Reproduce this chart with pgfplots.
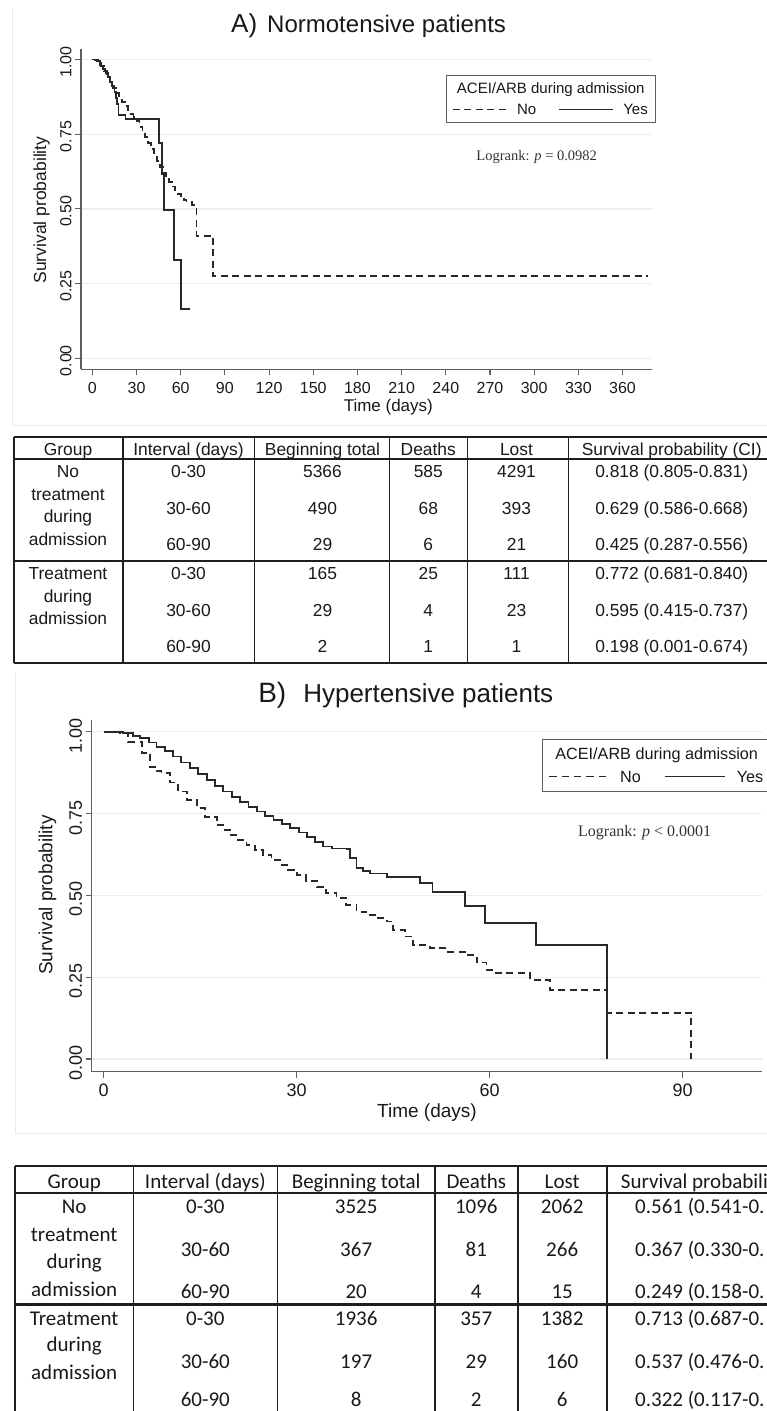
\documentclass[border=0pt]{standalone}
\usepackage{fontspec}
\setmainfont{Liberation Sans}
\newfontfamily\carlito{Carlito}
\newfontfamily\serifrm{Liberation Serif}
\usepackage{pgfplots}
\pgfplotsset{compat=1.18}
\definecolor{curve}{RGB}{40,40,40}
\definecolor{gridc}{RGB}{230,239,241}
\definecolor{axc}{RGB}{95,95,95}
\definecolor{txt}{RGB}{25,25,25}
\definecolor{tabc}{RGB}{30,30,30}
\pgfplotsset{
 km/.style={
  scale only axis,
  axis lines=left,
  axis line style={-, draw=axc, line width=1.3pt},
  tick align=outside,
  major tick length=6pt,
  tick style={draw=axc, line width=1.1pt},
  ymajorgrids,
  major grid style={draw=gridc, line width=1.3pt},
  ytick={0,0.25,0.5,0.75,1},
  yticklabels={0.00,0.25,0.50,0.75,1.00},
  yticklabel style={rotate=90, anchor=south},
  /pgf/number format/assume math mode=true,
  tick label style={text=txt},
  label style={text=txt},
  clip=false,
 },
 nost/.style={const plot, draw=curve, line width=1.8pt, dash pattern=on 7pt off 4.5pt, mark=none},
 yesst/.style={const plot, draw=curve, line width=1.8pt, mark=none},
}
\newcommand\tabA{\fontsize{17.4}{18}\selectfont}
\newcommand\tabB{\carlito\fontsize{21}{22}\selectfont}
\newcommand\ta[3]{\node[anchor=base, font=\tabA, text=txt, inner sep=0pt] at (#1,-#2) {#3};}
\newcommand\tb[3]{\node[anchor=base, font=\tabB, text=txt, inner sep=0pt] at (#1,-#2) {#3};}
\newcommand\tbw[3]{\node[anchor=base west, font=\tabB, text=txt, inner sep=0pt] at (#1,-#2) {#3};}
\begin{document}
\begin{tikzpicture}[x=1pt,y=1pt]
% faint graph-region edges
\draw[black!8, line width=0.8pt] (12,-8) -- (12,-425) -- (767,-425);
\draw[black!8, line width=0.8pt] (15,-672) -- (15,-1133) -- (767,-1133);

%================ Panel A =================
\begin{axis}[km, at={(81pt,-369.3pt)}, anchor=south west,
  width=570.7pt, height=320.3pt,
  xmin=-7.7, xmax=379.8, ymin=-0.037, ymax=1.035,
  xtick={0,30,...,360},
  tick label style={font=\fontsize{16}{16}\selectfont},
  xticklabel style={yshift=-3pt},
  yticklabel style={xshift=-2.5pt},
  xlabel={Time (days)},
  xlabel style={at={(axis description cs:0.5385,-0.1177)}, anchor=center, font=\fontsize{17}{17}\selectfont},
  ylabel={Survival probability},
  ylabel style={at={(axis description cs:-0.0692,0.4974)}, anchor=center, rotate=0, font=\fontsize{17.5}{17.5}\selectfont},
  title={{\fontsize{26}{26}\selectfont A)}\hspace{10pt}{\fontsize{24}{24}\selectfont Normotensive patients}},
  title style={at={(axis description cs:0.504,1.054)}, anchor=center, text=txt},
]
\addplot[nost] coordinates {
(0,1) (2,0.998) (4,0.99) (6,0.978) (8,0.962) (10,0.942) (12,0.925) (14,0.905)
(16,0.888) (18,0.872) (20,0.857) (22,0.843) (24,0.83) (26,0.818) (28,0.807)
(30,0.795) (32,0.775) (34,0.755) (36,0.74) (38,0.72) (40,0.70) (42,0.68)
(44,0.66) (46,0.64) (48,0.62) (50,0.605) (52,0.59) (54,0.575) (56,0.563)
(58,0.55) (60,0.54) (62,0.53) (64,0.522) (67.7,0.513) (70.7,0.41) (82,0.275)
(377.5,0.275)};
\addplot[yesst] coordinates {
(0,1) (3,0.995) (5,0.98) (7,0.968) (9,0.955) (10.5,0.94) (12,0.925) (13.5,0.91)
(15,0.89) (16,0.87) (16.8,0.85) (17.7,0.815) (22.5,0.80) (45,0.72) (47.3,0.615)
(48.4,0.495) (55.7,0.329) (60,0.164) (66.6,0.164)};
\end{axis}
% legend A
\draw[axc, line width=1pt, fill=white] (446.7,-75) rectangle (655.7,-122);
\node[font=\fontsize{15}{15}\selectfont, text=txt] at (550.7,-89.3) {ACEI/ARB during admission};
\draw[curve, line width=1.3pt, dash pattern=on 7pt off 4.5pt] (452.7,-109.3) -- (508.3,-109.3);
\node[font=\fontsize{15}{15}\selectfont, text=txt] at (526.7,-109.3) {No};
\draw[curve, line width=1.3pt] (559,-109.3) -- (613.3,-109.3);
\node[font=\fontsize{15}{15}\selectfont, text=txt] at (635.5,-109.3) {Yes};
\node[font=\serifrm\fontsize{14.5}{15}\selectfont, text=black!80] at (536.7,-156.7) {Logrank: \textit{p} = 0.0982};

%================ Table A =================
\begin{scope}[draw=tabc]
\draw[line width=1.6pt] (14,-436.7) -- (767,-436.7);
\draw[line width=2pt] (14,-459.3) -- (767,-459.3);
\draw[line width=2.6pt] (14,-561) -- (767,-561);
\draw[line width=1.8pt] (14,-663.3) -- (767,-663.3);
\foreach \xx in {14,122.7,254.3,389.5,467.3,568.3}
  \draw[line width=1.6pt] (\xx,-436.7) -- (\xx,-663.3);
\end{scope}
\ta{68}{455}{Group}
\ta{188.5}{455}{Interval (days)}
\ta{322.5}{455}{Beginning total}
\ta{428.3}{455}{Deaths}
\ta{516.5}{455}{Lost}
\ta{671.7}{455}{Survival probability (CI)}
\ta{68}{477.7}{No}
\ta{68}{500.3}{treatment}
\ta{68}{522.7}{during}
\ta{68}{545.3}{admission}
\ta{68}{579.3}{Treatment}
\ta{68}{602.7}{during}
\ta{68}{624.3}{admission}
\ta{188.5}{477.7}{0-30}\ta{322.5}{477.7}{5366}\ta{428.3}{477.7}{585}\ta{516.5}{477.7}{4291}\ta{671.7}{477.7}{0.818 (0.805-0.831)}
\ta{188.5}{514.3}{30-60}\ta{322.5}{514.3}{490}\ta{428.3}{514.3}{68}\ta{516.5}{514.3}{393}\ta{671.7}{514.3}{0.629 (0.586-0.668)}
\ta{188.5}{550}{60-90}\ta{322.5}{550}{29}\ta{428.3}{550}{6}\ta{516.5}{550}{21}\ta{671.7}{550}{0.425 (0.287-0.556)}
\ta{188.5}{579.3}{0-30}\ta{322.5}{579.3}{165}\ta{428.3}{579.3}{25}\ta{516.5}{579.3}{111}\ta{671.7}{579.3}{0.772 (0.681-0.840)}
\ta{188.5}{616}{30-60}\ta{322.5}{616}{29}\ta{428.3}{616}{4}\ta{516.5}{616}{23}\ta{671.7}{616}{0.595 (0.415-0.737)}
\ta{188.5}{652}{60-90}\ta{322.5}{652}{2}\ta{428.3}{652}{1}\ta{516.5}{652}{1}\ta{671.7}{652}{0.198 (0.001-0.674)}

%================ Panel B =================
\begin{axis}[km, at={(91.7pt,-1071.7pt)}, anchor=south west,
  width=670pt, height=351.7pt,
  xmin=-1.865, xmax=102.29, ymin=-0.0388, ymax=1.0357,
  xtick={0,30,60,90},
  tick label style={font=\fontsize{18}{18}\selectfont},
  xticklabel style={yshift=-3pt},
  yticklabel style={xshift=-4pt},
  xlabel={Time (days)},
  xlabel style={at={(axis description cs:0.5004,-0.1166)}, anchor=center, font=\fontsize{19}{19}\selectfont},
  ylabel={Survival probability},
  ylabel style={at={(axis description cs:-0.066,0.5024)}, anchor=center, rotate=0, font=\fontsize{19}{19}\selectfont},
  title={{\fontsize{28}{28}\selectfont B)}\hspace{17pt}{\fontsize{26}{26}\selectfont Hypertensive patients}},
  title style={at={(axis description cs:0.4688,1.052)}, anchor=center, text=txt},
]
\addplot[nost] coordinates {
(0,1) (2.5,0.995) (3.8,0.969) (5.9,0.934) (7.2,0.893) (8.2,0.88) (9.0,0.873)
(10.3,0.845) (11.6,0.817) (12.9,0.791) (14.5,0.766) (15.7,0.740) (17.6,0.715)
(18.6,0.70) (19.6,0.684) (20.9,0.669) (22.2,0.654) (23.5,0.638) (24.8,0.623)
(26.1,0.608) (27.4,0.593) (28.7,0.578) (30.0,0.562) (31.5,0.544) (33.1,0.526)
(34.6,0.508) (36.2,0.491) (37.7,0.47) (39.3,0.450) (40.8,0.44) (42.4,0.430)
(44.0,0.42) (45.0,0.394) (46.8,0.374) (48.1,0.348) (50.7,0.338) (53.3,0.328)
(56.4,0.318) (58.0,0.295) (59.5,0.272) (60.6,0.262) (66.3,0.241) (69.4,0.211)
(78.3,0.141) (91.3,0.0)};
\addplot[yesst] coordinates {
(0,1) (1.5,0.998) (3,0.995) (4.5,0.988) (5.6,0.98) (7,0.967) (8.2,0.954)
(9.5,0.94) (10.8,0.924) (12,0.906) (13.4,0.888) (14.7,0.87) (16,0.852)
(17.3,0.835) (18.6,0.817) (19.9,0.80) (21.2,0.786) (22.5,0.771) (23.8,0.756)
(25.1,0.743) (26.4,0.73) (27.7,0.717) (29,0.705) (30.3,0.692) (31.6,0.679)
(32.9,0.664) (34.1,0.649) (35.5,0.643) (37.8,0.641) (38.3,0.615) (39.3,0.583)
(40.3,0.575) (41.4,0.567) (44,0.555) (49.2,0.537) (51.1,0.511) (56.2,0.467)
(59.3,0.416) (67.2,0.348) (78.3,0.0)};
\end{axis}
% legend B
\draw[axc, line width=1pt, fill=white] (542.7,-739) rectangle (790,-791);
\node[font=\fontsize{16.2}{16.2}\selectfont, text=txt] at (656.7,-755) {ACEI/ARB during admission};
\draw[curve, line width=1.3pt, dash pattern=on 7.5pt off 4.8pt] (549.3,-776.7) -- (610,-776.7);
\node[font=\fontsize{16.2}{16.2}\selectfont, text=txt] at (630.5,-776.7) {No};
\draw[curve, line width=1.3pt] (665,-776.7) -- (725,-776.7);
\node[font=\fontsize{16.2}{16.2}\selectfont, text=txt, anchor=west, inner sep=0pt] at (736.7,-776.7) {Yes};
\node[font=\serifrm\fontsize{16}{16}\selectfont, text=black!80] at (644.7,-832.7) {Logrank: \textit{p} < 0.0001};

%================ Table B =================
\begin{scope}[draw=tabc]
\draw[line width=1.8pt] (15,-1166) -- (767,-1166);
\draw[line width=2pt] (15,-1192.7) -- (767,-1192.7);
\draw[line width=2.6pt] (15,-1304.3) -- (767,-1304.3);
\foreach \xx in {15,133.3,277.3,435,517.7,606.7}
  \draw[line width=1.6pt] (\xx,-1166) -- (\xx,-1415);
\end{scope}
\tb{74.2}{1188.5}{Group}
\tb{205.3}{1188.5}{Interval (days)}
\tb{356.2}{1188.5}{Beginning total}
\tb{476.3}{1188.5}{Deaths}
\tb{562.2}{1188.5}{Lost}
\tbw{620.7}{1188.5}{Survival probabili}
\tb{74.2}{1213.5}{No}
\tb{74.2}{1241.1}{treatment}
\tb{74.2}{1268.5}{during}
\tb{74.2}{1296.1}{admission}
\tb{74.2}{1325.1}{Treatment}
\tb{74.2}{1351.8}{during}
\tb{74.2}{1379.5}{admission}
\tb{205.3}{1213.5}{0-30}\tb{356.2}{1213.5}{3525}\tb{476.3}{1213.5}{1096}\tb{562.2}{1213.5}{2062}\tbw{635}{1213.5}{0.561 (0.541-0.}
\tb{205.3}{1256.8}{30-60}\tb{356.2}{1256.8}{367}\tb{476.3}{1256.8}{81}\tb{562.2}{1256.8}{266}\tbw{635}{1256.8}{0.367 (0.330-0.}
\tb{205.3}{1298.5}{60-90}\tb{356.2}{1298.5}{20}\tb{476.3}{1298.5}{4}\tb{562.2}{1298.5}{15}\tbw{635}{1298.5}{0.249 (0.158-0.}
\tb{205.3}{1325.1}{0-30}\tb{356.2}{1325.1}{1936}\tb{476.3}{1325.1}{357}\tb{562.2}{1325.1}{1382}\tbw{635}{1325.1}{0.713 (0.687-0.}
\tb{205.3}{1368.5}{30-60}\tb{356.2}{1368.5}{197}\tb{476.3}{1368.5}{29}\tb{562.2}{1368.5}{160}\tbw{635}{1368.5}{0.537 (0.476-0.}
\tb{205.3}{1406}{60-90}\tb{356.2}{1406}{8}\tb{476.3}{1406}{2}\tb{562.2}{1406}{6}\tbw{635}{1406}{0.322 (0.117-0.}

\pgfresetboundingbox
\path (0,0) rectangle (767,-1411);
\end{tikzpicture}
\end{document}
